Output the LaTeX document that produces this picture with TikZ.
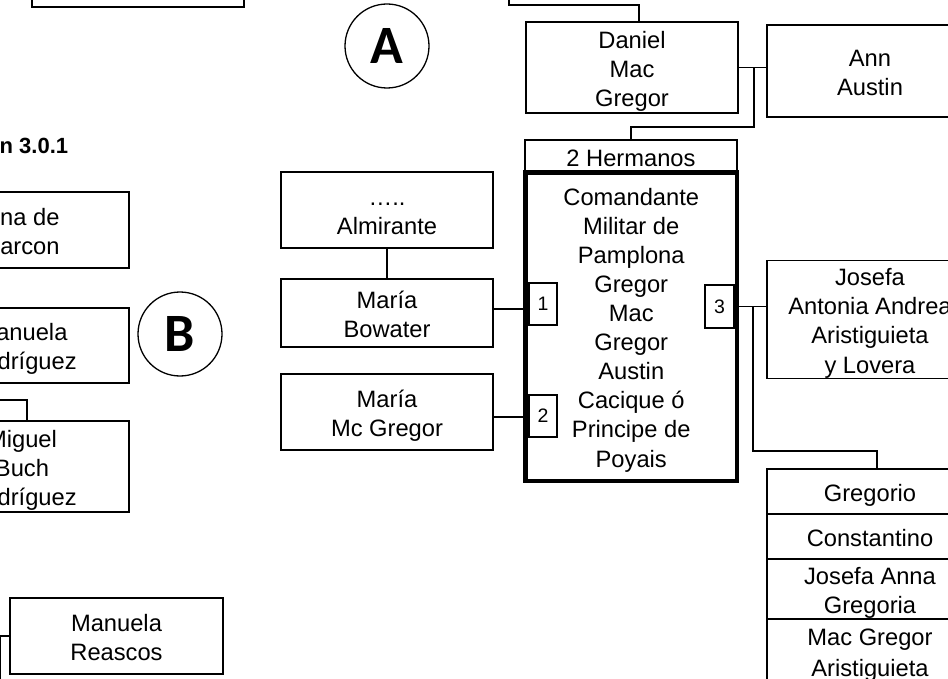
\documentclass[tikz,border=0pt]{standalone}
\usepackage{fontspec}
\setmainfont{Liberation Sans}
\newfontfamily\circfont{Carlito}
\newcommand{\ks}{\rule[-4.5pt]{0pt}{29pt}}
\tikzset{
  box/.style={draw, line width=1.3pt, minimum width=212pt, inner sep=0pt, align=center,
              font=\fontsize{23.7pt}{29pt}\selectfont},
  rbox/.style={box, minimum width=206pt},
  mainbox/.style={box, line width=4.5pt, minimum width=211.5pt, minimum height=308.5pt},
  conn/.style={line width=1.3pt},
  num/.style={draw, line width=1.1pt, inner sep=0pt, minimum width=28pt, minimum height=42pt,
              font=\fontsize{19.5pt}{22pt}\selectfont},
  circ/.style={circle, draw, line width=1.3pt, minimum size=84pt, inner sep=0pt,
               font=\circfont\bfseries\fontsize{54pt}{54pt}\selectfont}
}
\begin{document}
\begin{tikzpicture}[x=1pt,y=-1pt]
\useasboundingbox (0,0) rectangle (948,679);
\clip (0,0) rectangle (948,679);

% top-left box (cut)
\node[box, minimum height=74pt] (tl) at (138,-30) {};

% heading
\node[anchor=base west, inner sep=0pt, font=\bfseries\fontsize{22pt}{26pt}\selectfont] (head) at (-0.5,154) {n 3.0.1};

% circles
\node[circ] (cA) at (387,46) {A};
\node[circ] (cB) at (180,334) {B};

% left column (cut)
\node[box, minimum width=214pt, minimum height=76pt] (L1) at (22,230) {\ks\phantom{A}na de\\\phantom{A}arcon\ks};
\node[box, minimum width=214pt, minimum height=75pt] (L2) at (22,345.5) {\ks\phantom{M}anuela\\\phantom{Ro}dríguez\ks};
\node[box, minimum width=214pt, minimum height=91pt] (L3) at (22,466.5) {\ks Miguel\\Buch\\\phantom{Ro}dríguez\ks};
\node[box, minimum width=213pt, minimum height=76pt] (reascos) at (116.5,636) {\ks Manuela\\Reascos\ks};

% centre column
\node[box, minimum height=91pt] (daniel) at (632,67.5) {\ks Daniel\\Mac\\Gregor\ks};
\node[rbox, minimum height=92pt] (ann) at (870,71) {\ks Ann\\Austin\ks};
\node[box, minimum height=32.5pt] (hermanos) at (631,156.25) {\ks 2 Hermanos};
\node[mainbox] (main) at (631.25,326.75) {\ks Comandante\\Militar de\\Pamplona\\Gregor\\Mac\\Gregor\\Austin\\Cacique ó\\Principe de\\Poyais\ks};

\node[box, minimum height=76pt] (alm) at (387,210) {\ks …..\\Almirante\ks};
\node[box, minimum height=68pt] (bow) at (387,313) {\ks María\\Bowater\ks};
\node[box, minimum height=76pt] (mcg) at (387,412) {\ks María\\Mc Gregor\ks};

\node[num] (n1) at (543,304) {1};
\node[num] (n2) at (543,416) {2};
\node[num, minimum width=29pt, minimum height=43pt] (n3) at (719.5,306.5) {3};

% right column
\node[rbox, minimum height=113pt] (josefa) at (870,319.5) {\ks Josefa\\Antonia Andrea\\Aristiguieta\\y Lovera\ks};
\node[rbox, minimum height=45pt] (greg1) at (870,491.5) {\ks Gregorio};
\node[rbox, minimum height=45pt] (greg2) at (870,536.5) {\ks Constantino};
\node[rbox, minimum height=60pt] (greg3) at (870,589) {\ks Josefa Anna\\Gregoria\ks};
\node[rbox, minimum height=64pt] (greg4) at (870,651) {\ks Mac Gregor\\Aristiguieta\ks};

% connectors
\coordinate (topin) at (509,0);
\coordinate (t1) at (639,5);
\draw[conn] (topin) |- (t1) -- (t1 |- daniel.north);

\draw[conn] (daniel.east) -- (daniel.east -| ann.west);
\coordinate (m1) at (754,67.5);
\coordinate (m1b) at (754,127);
\draw[conn] (m1) -- (m1b) -| (hermanos.north);

\draw[conn] (alm.south) -- (bow.north);
\draw[conn] ([yshift=4pt]bow.east) -- ([yshift=4pt]bow.east -| main.west);
\draw[conn] ([yshift=-5pt]mcg.east) -- ([yshift=-5pt]mcg.east -| main.west);

\draw[conn] (main.east |- n3) -- (n3 -| josefa.west);
\coordinate (m3) at (753,306.5);
\coordinate (g1) at (877,451);
\draw[conn] (m3) |- (g1) -- (g1 |- greg1.north);

\coordinate (lin) at (0,400);
\coordinate (k) at (27,400);
\draw[conn] (lin) -- (k) -- (k |- L3.north);

\coordinate (rin) at (0.7,679);
\draw[conn] (rin) |- (reascos.west);
\end{tikzpicture}
\end{document}
